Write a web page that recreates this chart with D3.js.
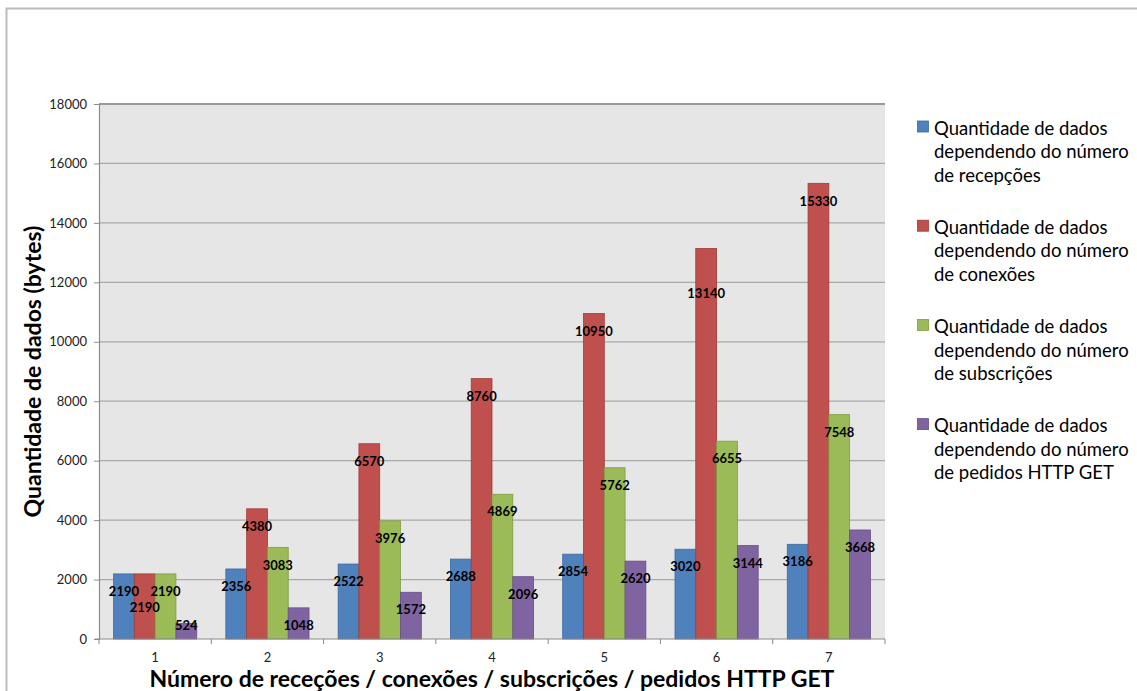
<!DOCTYPE html>
<html>
<head>
<meta charset="utf-8">
<script src="https://cdn.jsdelivr.net/npm/d3@7"></script>
<style>
  html, body { margin: 0; padding: 0; background: #ffffff; }
  svg { display: block; font-family: Lato, "Open Sans", sans-serif; }
</style>
</head>
<body>
<svg id="chart" width="1137" height="691"></svg>
<script>
// Categories on the x axis
const categories = ["1", "2", "3", "4", "5", "6", "7"];

// Series names (legend text, one entry per line)
const seriesNames = [
  ["Quantidade de dados", "dependendo do número", "de recepções"],
  ["Quantidade de dados", "dependendo do número", "de conexões"],
  ["Quantidade de dados", "dependendo do número", "de subscrições"],
  ["Quantidade de dados", "dependendo do número", "de pedidos HTTP GET"]
];

// Values (bytes) per series
const recepcoes   = [2190, 2356, 2522, 2688, 2854, 3020, 3186];
const conexoes    = [2190, 4380, 6570, 8760, 10950, 13140, 15330];
const subscricoes = [2190, 3083, 3976, 4869, 5762, 6655, 7548];
const pedidosGet  = [524, 1048, 1572, 2096, 2620, 3144, 3668];

// Y axis tick values
const yTicks = [0, 2000, 4000, 6000, 8000, 10000, 12000, 14000, 16000, 18000];

const seriesValues = [recepcoes, conexoes, subscricoes, pedidosGet];
const fills   = ["#4f81bd", "#c0504d", "#9bbb59", "#8064a2"];
const strokes = ["#3d6a9f", "#9e3c39", "#7f9b45", "#664f86"];

// Hand-placed label shifts (px) for labels that were moved off their default spot
const labelShift = { "1-0": 16, "1-5": 27 };

const svg = d3.select("#chart");

// Outer frame
svg.append("rect")
  .attr("x", 6.5).attr("y", 8.5)
  .attr("width", 1200).attr("height", 800)
  .attr("fill", "none").attr("stroke", "#bcbcbc").attr("stroke-width", 2);

const plot = { left: 99, right: 885, top: 104, bottom: 639 };

const x = d3.scaleBand().domain(categories).range([plot.left, plot.right]);
const xSub = d3.scaleBand().domain(d3.range(seriesValues.length))
  .range([0, x.bandwidth()]).paddingOuter(0.7);
const y = d3.scaleLinear().domain([0, 18000]).range([plot.bottom, plot.top]);

// Plot background
svg.append("rect")
  .attr("x", plot.left).attr("y", plot.top)
  .attr("width", plot.right - plot.left).attr("height", plot.bottom - plot.top)
  .attr("fill", "#e6e6e6");

// Gridlines
svg.append("g").selectAll("line")
  .data(yTicks.filter(d => d > 0))
  .join("line")
  .attr("x1", plot.left).attr("x2", plot.right)
  .attr("y1", d => y(d)).attr("y2", d => y(d))
  .attr("stroke", d => d === 18000 ? "#999999" : "#a8a8a8")
  .attr("stroke-width", d => d === 18000 ? 2 : 1.3);

// Bars
const groups = svg.append("g").selectAll("g")
  .data(seriesValues)
  .join("g")
  .attr("fill", (d, i) => fills[i])
  .attr("stroke", (d, i) => strokes[i]);

groups.each(function (vals, si) {
  d3.select(this).selectAll("rect")
    .data(vals)
    .join("rect")
    .attr("x", (d, ci) => x(categories[ci]) + xSub(si))
    .attr("y", d => y(d))
    .attr("width", xSub.bandwidth())
    .attr("height", d => y(0) - y(d))
    .attr("stroke-width", 0.8);
});

// Y axis
const yAxis = d3.axisLeft(y).tickValues(yTicks).tickSize(5).tickPadding(7)
  .tickFormat(d3.format("d"));
const gy = svg.append("g").attr("transform", `translate(${plot.left},0)`).call(yAxis);
gy.select(".domain").attr("stroke", "#8c8c8c").attr("stroke-width", 1.2);
gy.selectAll(".tick line").attr("stroke", "#8c8c8c");
gy.selectAll(".tick text").attr("font-size", 13).attr("fill", "#222")
  .attr("font-family", "Lato, sans-serif");

// X axis: line with ticks at category boundaries
const gx = svg.append("g");
gx.append("line")
  .attr("x1", plot.left - 4).attr("x2", plot.right)
  .attr("y1", plot.bottom).attr("y2", plot.bottom)
  .attr("stroke", "#8c8c8c").attr("stroke-width", 1.2);
gx.selectAll("line.tk")
  .data(categories.map(c => x(c)).concat([plot.right]))
  .join("line").attr("class", "tk")
  .attr("x1", d => d).attr("x2", d => d)
  .attr("y1", plot.bottom).attr("y2", plot.bottom + 5)
  .attr("stroke", "#8c8c8c");
gx.selectAll("text")
  .data(categories)
  .join("text")
  .attr("x", d => x(d) + x.bandwidth() / 2)
  .attr("y", plot.bottom + 23)
  .attr("text-anchor", "middle")
  .attr("font-size", 13).attr("fill", "#222")
  .text(d => d);

// Value labels
const labels = svg.append("g")
  .attr("font-size", 13).attr("font-weight", "bold").attr("fill", "#000")
  .attr("text-anchor", "middle");
seriesValues.forEach((vals, si) => {
  vals.forEach((v, ci) => {
    let cy = Math.min(y(v) + 17.5, y(0) - 14);
    cy += labelShift[`${si}-${ci}`] || 0;
    labels.append("text")
      .attr("x", x(categories[ci]) + xSub(si) + xSub.bandwidth() / 2)
      .attr("y", cy)
      .attr("dy", "0.36em")
      .text(v);
  });
});

// Axis titles
svg.append("text")
  .attr("transform", `translate(41,${(plot.top + plot.bottom) / 2}) rotate(-90)`)
  .attr("text-anchor", "middle")
  .attr("font-size", 23).attr("font-weight", "bold").attr("fill", "#000")
  .text("Quantidade de dados (bytes)");

svg.append("text")
  .attr("x", (plot.left + plot.right) / 2).attr("y", 687)
  .attr("text-anchor", "middle")
  .attr("font-size", 23).attr("font-weight", "bold").attr("fill", "#000")
  .text("Número de receções / conexões / subscrições / pedidos HTTP GET");

// Legend
const legend = svg.append("g");
seriesNames.forEach((lines, i) => {
  const top = 121 + i * 99.2;
  legend.append("rect")
    .attr("x", 917.5).attr("y", top)
    .attr("width", 11).attr("height", 11)
    .attr("fill", fills[i]).attr("stroke", strokes[i]).attr("stroke-width", 0.8);
  legend.append("text")
    .attr("x", 934).attr("y", top + 13.5)
    .attr("font-size", 18.5).attr("fill", "#000")
    .selectAll("tspan")
    .data(lines)
    .join("tspan")
    .attr("x", 934)
    .attr("dy", (d, j) => j === 0 ? 0 : 23.6)
    .text(d => d);
});
</script>
</body>
</html>
